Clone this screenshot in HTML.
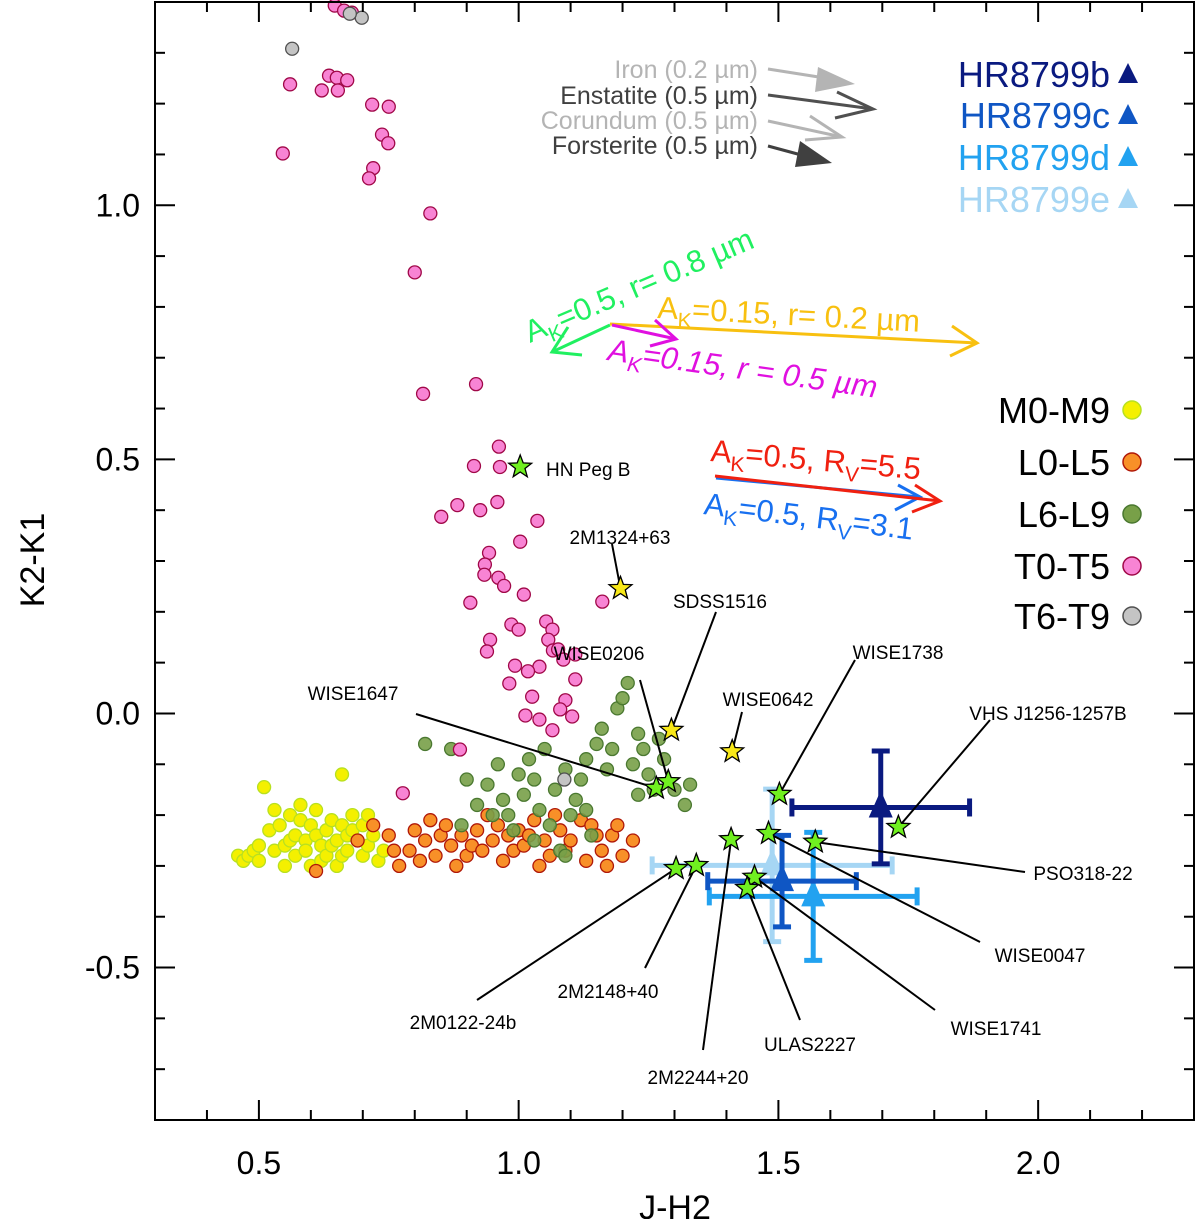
<!DOCTYPE html>
<html><head><meta charset="utf-8"><style>
html,body{margin:0;padding:0;background:#fff;}
svg{display:block;font-family:"Liberation Sans",Arial,sans-serif;}
</style></head><body>
<svg id="chart" width="1200" height="1219" viewBox="0 0 1200 1219" xmlns="http://www.w3.org/2000/svg">
<g id="marks"></g>
<g id="ann"></g>
<g id="stars"></g>
<g id="axes"></g>
</svg>
<script>
const xMin=0.3,xMax=2.3,yMin=-0.8,yMax=1.4;
const L=155,R=1194,T=2,B=1120;
const sx=v=>L+(v-xMin)/(xMax-xMin)*(R-L);
const sy=v=>B-(v-yMin)/(yMax-yMin)*(B-T);

const xTicks=[0.5,1.0,1.5,2.0];
const xTickLabels=["0.5","1.0","1.5","2.0"];
const yTicks=[-0.5,0.0,0.5,1.0];
const yTickLabels=["-0.5","0.0","0.5","1.0"];

const mX=[0.46,0.47,0.48,0.49,0.50,0.50,0.51,0.52,0.53,0.53,0.54,0.55,0.55,0.56,0.56,0.57,0.57,0.58,0.58,0.59,0.59,0.60,0.60,0.61,0.61,0.62,0.62,0.63,0.63,0.64,0.64,0.65,0.65,0.66,0.66,0.66,0.67,0.67,0.68,0.68,0.69,0.70,0.70,0.71,0.71,0.72,0.73,0.74];
const mY=[-0.28,-0.29,-0.28,-0.27,-0.29,-0.26,-0.145,-0.23,-0.19,-0.27,-0.22,-0.26,-0.30,-0.20,-0.25,-0.24,-0.28,-0.21,-0.18,-0.25,-0.27,-0.30,-0.22,-0.19,-0.24,-0.26,-0.29,-0.23,-0.28,-0.21,-0.26,-0.25,-0.30,-0.22,-0.28,-0.12,-0.27,-0.24,-0.20,-0.23,-0.25,-0.28,-0.22,-0.26,-0.20,-0.24,-0.29,-0.27];

const lX=[0.61,0.69,0.72,0.75,0.76,0.77,0.79,0.80,0.81,0.82,0.83,0.84,0.85,0.86,0.87,0.88,0.89,0.90,0.91,0.92,0.93,0.94,0.95,0.96,0.97,0.98,0.99,1.00,1.01,1.02,1.03,1.04,1.05,1.06,1.07,1.08,1.09,1.10,1.12,1.13,1.14,1.15,1.16,1.17,1.18,1.19,1.20,1.22];
const lY=[-0.31,-0.25,-0.22,-0.24,-0.27,-0.30,-0.27,-0.23,-0.29,-0.25,-0.21,-0.28,-0.24,-0.22,-0.26,-0.30,-0.24,-0.28,-0.26,-0.23,-0.27,-0.20,-0.25,-0.22,-0.29,-0.24,-0.27,-0.23,-0.26,-0.24,-0.21,-0.30,-0.25,-0.28,-0.20,-0.23,-0.27,-0.25,-0.21,-0.29,-0.22,-0.24,-0.27,-0.30,-0.24,-0.22,-0.28,-0.25];

const l6X=[0.82,0.87,0.89,0.90,0.92,0.94,0.95,0.96,0.97,0.98,0.99,1.00,1.01,1.02,1.03,1.03,1.04,1.05,1.06,1.07,1.08,1.09,1.09,1.10,1.11,1.12,1.13,1.13,1.14,1.15,1.16,1.17,1.18,1.19,1.20,1.21,1.22,1.23,1.23,1.24,1.25,1.26,1.27,1.28,1.30,1.32,1.33];
const l6Y=[-0.06,-0.07,-0.22,-0.13,-0.18,-0.14,-0.20,-0.10,-0.17,-0.20,-0.23,-0.12,-0.16,-0.09,-0.13,-0.25,-0.19,-0.07,-0.22,-0.15,-0.27,-0.11,-0.28,-0.20,-0.17,-0.13,-0.09,-0.19,-0.24,-0.06,-0.03,-0.11,-0.07,0.01,0.03,0.06,-0.10,-0.04,-0.16,-0.07,-0.12,-0.15,-0.05,-0.09,-0.15,-0.18,-0.14];

const tX=[0.646,0.664,0.679,0.56,0.635,0.65,0.621,0.652,0.67,0.718,0.75,0.737,0.749,0.72,0.712,0.546,0.83,0.80,0.816,0.918,0.962,0.914,0.964,0.851,0.882,0.926,0.959,1.036,0.907,0.943,0.935,0.934,0.961,1.003,0.972,0.945,0.986,1.0,1.01,1.053,1.065,1.057,1.066,1.04,1.076,1.086,1.109,1.109,1.09,1.103,1.04,1.013,1.026,1.065,1.161,0.993,0.982,0.939,1.018,0.887,0.777,1.08];
const tY=[1.393,1.383,1.379,1.238,1.255,1.251,1.226,1.226,1.246,1.198,1.194,1.139,1.122,1.073,1.053,1.102,0.984,0.868,0.629,0.648,0.525,0.487,0.485,0.387,0.41,0.40,0.416,0.379,0.218,0.316,0.293,0.273,0.267,0.338,0.251,0.145,0.175,0.165,0.234,0.181,0.165,0.145,0.124,0.092,0.126,0.106,0.116,0.067,0.026,-0.006,-0.012,-0.004,0.033,-0.033,0.22,0.094,0.059,0.122,0.083,-0.071,-0.157,0.008];

const t6X=[0.564,0.698,0.675,1.088];
const t6Y=[1.308,1.369,1.377,-0.13];

const yStarNames=["2M1324+63","SDSS1516","WISE0642"];
const yStarX=[1.196,1.294,1.411];
const yStarY=[0.246,-0.033,-0.075];

const gStarNames=["HN Peg B","WISE1647","WISE0206","WISE1738","VHS J1256-1257B","PSO318-22","WISE0047","WISE1741","ULAS2227","2M2244+20","2M2148+40","2M0122-24b"];
const gStarX=[1.003,1.265,1.288,1.502,1.731,1.571,1.481,1.454,1.44,1.409,1.342,1.303];
const gStarY=[0.485,-0.147,-0.134,-0.159,-0.224,-0.253,-0.236,-0.322,-0.344,-0.248,-0.299,-0.305];

const hrNames=["HR8799e","HR8799d","HR8799c","HR8799b"];
const hrX=[1.488,1.567,1.507,1.697];
const hrY=[-0.299,-0.36,-0.33,-0.185];
const hrXerr=[0.231,0.20,0.143,0.171];
const hrYerr=[0.150,0.126,0.090,0.111];
const hrColors=["#a6d6f4","#22a2f0","#0f56c4","#0a1a80"];

const NS="http://www.w3.org/2000/svg";
function mk(tag,attrs,parent,txt){const e=document.createElementNS(NS,tag);for(const k in attrs)e.setAttribute(k,attrs[k]);if(txt!==undefined)e.textContent=txt;parent.appendChild(e);return e;}
const marks=document.getElementById('marks'),axes=document.getElementById('axes'),ann=document.getElementById('ann'),starsG=document.getElementById('stars');

function circles(xs,ys,fill,stroke,name,op){
  for(let i=0;i<xs.length;i++){
    const c=mk('circle',{cx:sx(xs[i]),cy:sy(ys[i]),r:6.5,fill:fill,stroke:stroke,'stroke-width':1.3,'fill-opacity':op||1},marks);
    
    
  }
}
circles(mX,mY,"#f4f000","#b8e020","m-dwarf-point");
circles(lX,lY,"#f89028","#b01808","l0-l5-point");
circles(l6X,l6Y,"#78a048","#4a7830","l6-l9-point",0.9);
circles(tX,tY,"#f884d4","#a00848","t0-t5-point");
circles(t6X,t6Y,"#c4c4c4","#505050","t6-t9-point");

function starPts(cx,cy,r){let p=[];for(let k=0;k<10;k++){const a=-Math.PI/2+k*Math.PI/5;const rr=k%2?r*0.42:r;p.push((cx+rr*Math.cos(a)).toFixed(1)+','+(cy+rr*Math.sin(a)).toFixed(1));}return p.join(' ');}

for(let i=0;i<hrX.length;i++){
  const g=mk('g',{stroke:hrColors[i],'stroke-width':5,fill:hrColors[i]},marks);
  
  
  const cx=sx(hrX[i]),cy=sy(hrY[i]);
  const x1=sx(hrX[i]-hrXerr[i]),x2=sx(hrX[i]+hrXerr[i]),y1=sy(hrY[i]+hrYerr[i]),y2=sy(hrY[i]-hrYerr[i]);
  mk('line',{x1:x1,y1:cy,x2:x2,y2:cy},g);
  mk('line',{x1:cx,y1:y1,x2:cx,y2:y2},g);
  mk('line',{x1:x1,y1:cy-9,x2:x1,y2:cy+9},g);
  mk('line',{x1:x2,y1:cy-9,x2:x2,y2:cy+9},g);
  mk('line',{x1:cx-9,y1:y1,x2:cx+9,y2:y1},g);
  mk('line',{x1:cx-9,y1:y2,x2:cx+9,y2:y2},g);
  mk('polygon',{points:`${cx},${cy-17} ${cx-12},${cy+10} ${cx+12},${cy+10}`,stroke:'none'},g);
}

const leaders={"HN Peg B":null,"2M1324+63":[612,544],"SDSS1516":[716,612],"WISE0642":[742,712],
"WISE1647":[416,714],"WISE0206":[640,680],"WISE1738":[855,660],"VHS J1256-1257B":[990,720],
"PSO318-22":[1025,872],"WISE0047":[980,942],"WISE1741":[935,1010],"ULAS2227":[800,1020],
"2M2244+20":[703,1050],"2M2148+40":[645,968],"2M0122-24b":[477,1000]};
const labelPos={"HN Peg B":[546,469,'start'],"2M1324+63":[620,537,'middle'],"SDSS1516":[720,601,'middle'],"WISE0642":[768,699,'middle'],
"WISE1647":[353,693,'middle'],"WISE0206":[599,653,'middle'],"WISE1738":[898,652,'middle'],"VHS J1256-1257B":[1048,713,'middle'],
"PSO318-22":[1083,873,'middle'],"WISE0047":[1040,955,'middle'],"WISE1741":[996,1028,'middle'],"ULAS2227":[810,1044,'middle'],
"2M2244+20":[698,1077,'middle'],"2M2148+40":[608,991,'middle'],"2M0122-24b":[463,1022,'middle']};
function drawStars(names,xs,ys,fill,nm){
  for(let i=0;i<xs.length;i++){
    const cx=sx(xs[i]),cy=sy(ys[i]);
    const ld=leaders[names[i]];
    if(ld){const l=mk('line',{x1:ld[0],y1:ld[1],x2:cx,y2:cy,stroke:'#000','stroke-width':2},ann);
      
      }
    const s=mk('polygon',{points:starPts(cx,cy,12),fill:fill,stroke:'#000','stroke-width':1.3},starsG);
    
    
    const lp=labelPos[names[i]];
    const t=mk('text',{x:lp[0],y:lp[1]+7,'font-size':19,'text-anchor':lp[2],fill:'#000'},ann,names[i]);
    
    
  }
}
drawStars(yStarNames,yStarX,yStarY,"#f8e818","yellow-star");
drawStars(gStarNames,gStarX,gStarY,"#70f020","green-star");

const fr=mk('rect',{x:L,y:T,width:R-L,height:B-T,fill:'none',stroke:'#000','stroke-width':2},axes);

for(let v=0.3;v<=2.3001;v+=0.1){const x=sx(v);const maj=Math.abs(v*2-Math.round(v*2))<1e-6;const len=maj?20:10;
  mk('line',{x1:x,y1:B,x2:x,y2:B-len,stroke:'#000','stroke-width':2},axes);
  mk('line',{x1:x,y1:T,x2:x,y2:T+len,stroke:'#000','stroke-width':2},axes);}
for(let v=-0.8;v<=1.4001;v+=0.1){const y=sy(v);const maj=Math.abs(v*2-Math.round(v*2))<1e-6;const len=maj?20:10;
  mk('line',{x1:L,y1:y,x2:L+len,y2:y,stroke:'#000','stroke-width':2},axes);
  mk('line',{x1:R,y1:y,x2:R-len,y2:y,stroke:'#000','stroke-width':2},axes);}
xTicks.forEach((v,i)=>{const t=mk('text',{x:sx(v),y:1174,'font-size':32,'text-anchor':'middle'},axes,xTickLabels[i]);
  });
yTicks.forEach((v,i)=>{const t=mk('text',{x:140,y:sy(v)+11,'font-size':32,'text-anchor':'end'},axes,yTickLabels[i]);
  });
</script>
<svg style="position:absolute;left:0;top:0" width="1200" height="1219" xmlns="http://www.w3.org/2000/svg">
<text x="675" y="1219" font-size="34" text-anchor="middle" font-family="Liberation Sans, sans-serif">J-H2</text>
<text transform="translate(44,560) rotate(-90)" font-size="34" text-anchor="middle" font-family="Liberation Sans, sans-serif">K2-K1</text>

<g font-family="Liberation Sans, sans-serif" font-size="25" text-anchor="end">
<text x="758" y="78" fill="#b4b4b4">Iron (0.2 µm)</text>
<text x="758" y="104" fill="#404040">Enstatite (0.5 µm)</text>
<text x="758" y="129" fill="#b4b4b4">Corundum (0.5 µm)</text>
<text x="758" y="154" fill="#404040">Forsterite (0.5 µm)</text>
<line x1="768" y1="69" x2="825" y2="78" stroke="#b4b4b4" stroke-width="3"/>
<polygon points="855,84 818,67 815,92" fill="#b4b4b4"/>
<polyline points="768,95 873,109" stroke="#505050" stroke-width="3" fill="none"/>
<polyline points="837,92 873,109 835,118" stroke="#505050" stroke-width="3" fill="none"/>
<polyline points="768,121 842,137" stroke="#b4b4b4" stroke-width="3" fill="none"/>
<polyline points="810,116 842,137 805,140" stroke="#b4b4b4" stroke-width="3" fill="none"/>
<line x1="768" y1="146" x2="805" y2="156" stroke="#404040" stroke-width="3"/>
<polygon points="832,163 800,141 795,167" fill="#404040"/>
</g>

<g font-family="Liberation Sans, sans-serif" font-size="36" text-anchor="end">
<text x="1110" y="87" fill="#0a1a80">HR8799b</text>
<text x="1110" y="128" fill="#0f56c4">HR8799c</text>
<text x="1110" y="170" fill="#22a2f0">HR8799d</text>
<text x="1110" y="212" fill="#a6d6f4">HR8799e</text>
<polygon points="1128,63 1118,83 1138,83" fill="#0a1a80"/>
<polygon points="1128,104 1118,124 1138,124" fill="#0f56c4"/>
<polygon points="1128,146 1118,166 1138,166" fill="#22a2f0"/>
<polygon points="1128,188 1118,208 1138,208" fill="#a6d6f4"/>
</g>

<g font-family="Liberation Sans, sans-serif" font-size="36" text-anchor="end">
<text x="1110" y="423">M0-M9</text>
<text x="1110" y="475">L0-L5</text>
<text x="1110" y="527">L6-L9</text>
<text x="1110" y="579">T0-T5</text>
<text x="1110" y="629">T6-T9</text>
<circle cx="1132" cy="410" r="9" fill="#f4f000" stroke="#b8e020" stroke-width="1.5"/>
<circle cx="1132" cy="462" r="9" fill="#f89028" stroke="#b01808" stroke-width="1.5"/>
<circle cx="1132" cy="514" r="9" fill="#78a048" stroke="#4a7830" stroke-width="1.5"/>
<circle cx="1132" cy="566" r="9" fill="#f884d4" stroke="#a00848" stroke-width="1.5"/>
<circle cx="1132" cy="616" r="9" fill="#c4c4c4" stroke="#505050" stroke-width="1.5"/>
</g>

<g font-family="Liberation Sans, sans-serif" font-size="31" stroke-width="3" fill="none">
<line x1="610" y1="325" x2="552" y2="352" stroke="#20f060"/>
<polyline points="568,327 552,352 582,355" stroke="#20f060"/>
<text transform="translate(530,343) rotate(-23)" fill="#20f060" stroke="none">A<tspan font-size="21" dy="8">K</tspan><tspan dy="-8">=0.5, r= 0.8 µm</tspan></text>
<line x1="610" y1="324" x2="977" y2="343" stroke="#f8c010"/>
<polyline points="952,326 977,343 950,356" stroke="#f8c010"/>
<text transform="translate(657,318) rotate(3)" fill="#f8c010" stroke="none">A<tspan font-size="21" dy="8">K</tspan><tspan dy="-8">=0.15, r= 0.2 µm</tspan></text>
<line x1="612" y1="325" x2="676" y2="339" stroke="#e010e0"/>
<polyline points="655,320 676,339 650,346" stroke="#e010e0"/>
<text transform="translate(607,360) rotate(8)" fill="#e010e0" stroke="none" font-style="italic">A<tspan font-size="21" dy="8">K</tspan><tspan dy="-8">=0.15, r = 0.5 µm</tspan></text>
<line x1="716" y1="478" x2="920" y2="497" stroke="#1870f0"/>
<polyline points="898,485 920,497 895,510" stroke="#1870f0"/>
<line x1="715" y1="476" x2="940" y2="501" stroke="#f02010"/>
<polyline points="915,485 940,501 912,512" stroke="#f02010"/>
<text transform="translate(710,461) rotate(5)" fill="#f02010" stroke="none">A<tspan font-size="21" dy="8">K</tspan><tspan dy="-8">=0.5, R</tspan><tspan font-size="21" dy="8">V</tspan><tspan dy="-8">=5.5</tspan></text>
<text transform="translate(703,514) rotate(7)" fill="#1870f0" stroke="none">A<tspan font-size="21" dy="8">K</tspan><tspan dy="-8">=0.5, R</tspan><tspan font-size="21" dy="8">V</tspan><tspan dy="-8">=3.1</tspan></text>
</g>
</svg>
</body></html>
